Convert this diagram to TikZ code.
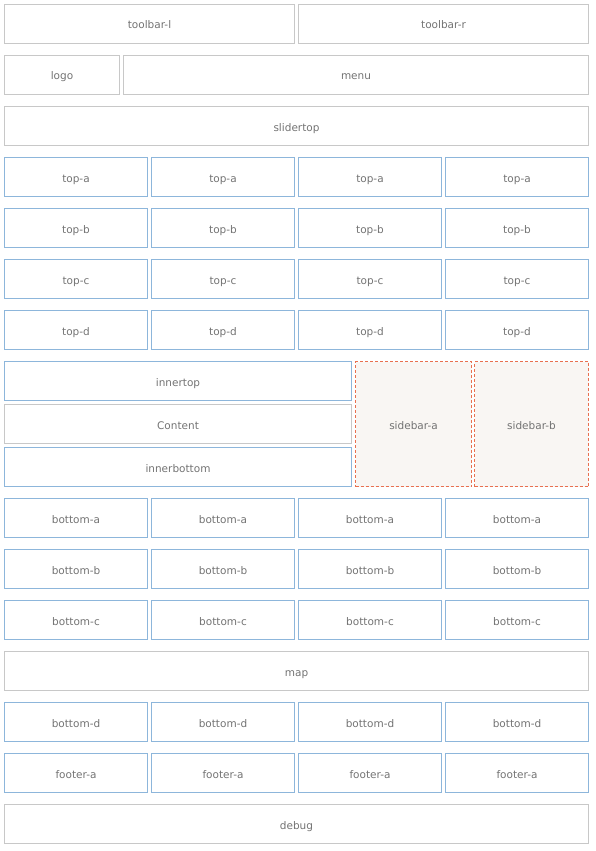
\documentclass[tikz,border=0pt]{standalone}
\usepackage{fontspec}
\setmainfont{DejaVu Sans}
\usepackage{tikz}
\usetikzlibrary{positioning}
\definecolor{Frame}{RGB}{200,200,200}
\definecolor{Cell}{RGB}{141,182,219}
\definecolor{Side}{RGB}{232,112,80}
\definecolor{SideFill}{RGB}{249,246,243}
\definecolor{Label}{RGB}{115,115,115}
\tikzset{
  box/.style={draw=Frame,line width=1pt,minimum height=39pt,inner sep=0pt,
    text height=10pt,text depth=0pt,
    text=Label,font=\fontsize{10.5}{12}\selectfont},
  cell/.style={box,draw=Cell},
  side/.style={box,draw=Side,fill=SideFill,dash pattern=on 3pt off 2pt},
}

\begin{document}
\begin{tikzpicture}[x=1pt,y=-1pt]
			\useasboundingbox (0,0) rectangle (596,851);
			% Kopfzeilen
			\node[box,minimum width=290pt] (tbl) at (149.5,24) {toolbar-l};
			\node[box,minimum width=290pt] (tbr) at (443.5,24) {toolbar-r};
			\node[box,minimum width=115pt] (logo) at (62,75) {logo};
			\node[box,minimum width=465pt] (menu) at (356,75) {menu};
			\node[box,minimum width=584pt] (slider) at (296.5,126) {slidertop};
			% Raster mit vier Spalten
			\foreach \y/\lab in {177/top-a,228/top-b,279/top-c,330/top-d,518/bottom-a,569/bottom-b,620/bottom-c,722/bottom-d,773/footer-a} {
					\foreach \c in {0,...,3}
						\node[cell,minimum width=143pt] (\lab-\c) at ({76+147*\c},\y) {\lab};
				}
			% Inhalt und Seitenleisten
			\node[cell,minimum width=347pt] (innertop) at (178,381) {innertop};
			\node[box,minimum width=347pt] (content) at (178,424) {Content};
			\node[cell,minimum width=347pt] (innerbottom) at (178,467) {innerbottom};
			\node[side,minimum width=116pt,minimum height=125pt] (sidea) at (413.5,424) {sidebar-a};
			\node[side,minimum width=114pt,minimum height=125pt] (sideb) at (531.5,424) {sidebar-b};
			% Fusszeilen
			\node[box,minimum width=584pt] (map) at (296.5,671) {map};
			\node[box,minimum width=584pt] (debug) at (296.5,824) {debug};
		\end{tikzpicture}
\end{document}
